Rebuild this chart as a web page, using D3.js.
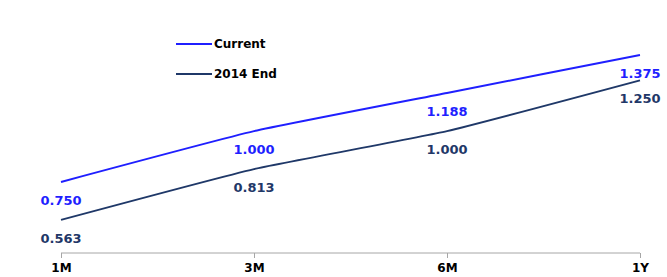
<!DOCTYPE html>
<html>
<head>
<meta charset="utf-8">
<script src="https://cdn.jsdelivr.net/npm/d3@7"></script>
<style>
    body { margin: 0; background: #fff; }
    text { font-family: "DejaVu Sans", Verdana, sans-serif; font-weight: bold; }
</style>
</head>
<body>
<script>
//chart data
var tenors = ["1M", "3M", "6M", "1Y"];
var current = [0.750, 1.000, 1.188, 1.375];
var end2014 = [0.563, 0.813, 1.000, 1.250];
var seriesNames = ["Current", "2014 End"];
var seriesColors = ["#1f1fff", "#1f3868"];

window.onload = drawChart();

function drawChart() {
    var width = 667,
    height = 277;

    var svg = d3.select("body")
    .append("svg")
    .attr("width", width)
    .attr("height", height);

    //category positions
    var x = d3.scalePoint()
    .domain(tenors)
    .range([61, 640]);

    //value scale
    var y = d3.scaleLinear()
    .domain([0.4, 1.5])
    .range([253, 29.6]);

    //x axis
    var xAxis = svg.append("g")
    .attr("transform", "translate(0," + y(0.4) + ")")
    .call(d3.axisBottom(x).tickSize(5).tickSizeOuter(0).tickPadding(5));
    xAxis.select(".domain").attr("stroke", "#a6a6a6").attr("d", "M" + x("1M") + ",0H" + x("1Y"));
    xAxis.selectAll(".tick line").attr("stroke", "#a6a6a6");
    xAxis.selectAll(".tick text")
    .attr("fill", "#000")
    .style("font-size", "12px")
    .style("font-family", "DejaVu Sans")
    .style("font-weight", "bold");

    var line = d3.line()
    .x(function(d, i){ return x(tenors[i]); })
    .y(function(d){ return y(d); })
    .curve(d3.curveCardinal.tension(0.6));

    var allSeries = [current, end2014];

    allSeries.forEach(function(vals, s){
        svg.append("path")
        .datum(vals)
        .attr("fill", "none")
        .attr("stroke", seriesColors[s])
        .attr("stroke-width", 2)
        .attr("d", line);

        //value labels below each point
        svg.selectAll(".lbl" + s)
        .data(vals)
        .enter()
        .append("text")
        .attr("class", "lbl" + s)
        .attr("x", function(d, i){ return x(tenors[i]); })
        .attr("y", function(d){ return y(d) + 23; })
        .attr("text-anchor", "middle")
        .attr("fill", seriesColors[s])
        .style("font-size", "13px")
        .text(function(d){ return d3.format(".3f")(d); });
    });

    //legend
    var legend = svg.selectAll(".legend")
    .data(seriesNames)
    .enter()
    .append("g")
    .attr("class", "legend")
    .attr("transform", function(d, i){ return "translate(176," + (44 + i * 30) + ")"; });

    legend.append("line")
    .attr("x1", 0).attr("x2", 36)
    .attr("stroke", function(d, i){ return seriesColors[i]; })
    .attr("stroke-width", 2);

    legend.append("text")
    .attr("x", 38)
    .attr("dy", "0.35em")
    .attr("fill", "#000")
    .style("font-size", "12px")
    .text(function(d){ return d; });
};
</script>
</body>
</html>
